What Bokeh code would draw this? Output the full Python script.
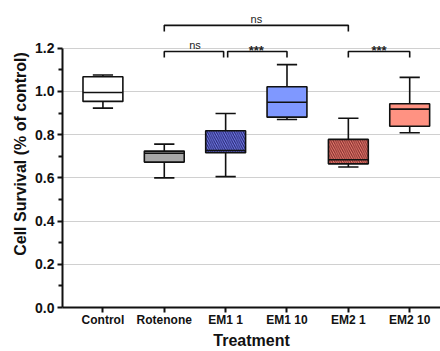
from bokeh.plotting import figure
from bokeh.models import Range1d, FixedTicker, ColumnDataSource, NumeralTickFormatter
from bokeh.core.properties import value
from bokeh.embed import file_html
from bokeh.resources import INLINE

# ---- data ----
groups = ["Control", "Rotenone", "EM1 1", "EM1 10", "EM2 1", "EM2 10"]
whisker_low = [0.923, 0.600, 0.606, 0.870, 0.650, 0.809]
q1 = [0.954, 0.673, 0.716, 0.881, 0.665, 0.839]
median = [0.995, 0.714, 0.727, 0.950, 0.684, 0.918]
q3 = [1.068, 0.724, 0.818, 1.022, 0.778, 0.943]
whisker_high = [1.076, 0.756, 0.898, 1.124, 0.876, 1.065]
fill_colors = ["#ffffff", "#a8a8a8", "#7c84f2", "#7f98ff", "#f08476", "#ff9282"]
hatches = [" ", " ", "\\", " ", "\\", " "]
hatch_colors = ["#000000", "#000000", "#22236e", "#000000", "#7e2a2a", "#000000"]

# comparisons: (from group, to group, label, bracket level)
comp_from = [1, 1, 2, 4]
comp_to = [4, 2, 3, 5]
comp_label = ["ns", "ns", "***", "***"]
comp_level = [1.306, 1.185, 1.185, 1.185]

y_ticks = [0.0, 0.2, 0.4, 0.6, 0.8, 1.0, 1.2]
y_minor = [0.1, 0.3, 0.5, 0.7, 0.9, 1.1]

FONT = "Liberation Sans"

p = figure(width=440, height=351, output_backend="svg", toolbar_location=None,
           x_range=Range1d(-0.659, 5.502), y_range=Range1d(0, 1.421),
           min_border_left=62, min_border_right=0, min_border_top=0, min_border_bottom=44)
p.outline_line_color = None
p.background_fill_color = "white"
p.border_fill_color = "white"

xs = list(range(len(groups)))
bw = 0.65
cw = 0.33
src = ColumnDataSource(dict(
    x=xs,
    left=[x - bw / 2 for x in xs], right=[x + bw / 2 for x in xs],
    cl=[x - cw / 2 for x in xs], cr=[x + cw / 2 for x in xs],
    ml=[x - bw / 2 for x in xs], mr=[x + bw / 2 for x in xs],
    wl=whisker_low, q1=q1, med=median, q3=q3, wh=whisker_high,
    fill=fill_colors, hatch=hatches, hcol=hatch_colors,
))

# whiskers
p.segment(x0="x", y0="q3", x1="x", y1="wh", source=src, line_color="#111111", line_width=1.6)
p.segment(x0="x", y0="q1", x1="x", y1="wl", source=src, line_color="#111111", line_width=1.6)
p.segment(x0="cl", y0="wh", x1="cr", y1="wh", source=src, line_color="#111111", line_width=1.6)
p.segment(x0="cl", y0="wl", x1="cr", y1="wl", source=src, line_color="#111111", line_width=1.6)
# boxes
p.quad(left="left", right="right", bottom="q1", top="q3", source=src,
       fill_color="fill", line_color="#111111", line_width=1.6,
       hatch_pattern="hatch", hatch_color="hcol", hatch_scale=4.5, hatch_weight=1.1)
# medians
p.segment(x0="ml", y0="med", x1="mr", y1="med", source=src, line_color="#111111", line_width=1.6)

# significance brackets
leg = 0.028
gap = 0.033
bx, by, tx, ty = [], [], [], []
for a, b, lab, lv in zip(comp_from, comp_to, comp_label, comp_level):
    x0 = a + (gap if (a, b) == (2, 3) else 0)
    x1 = b - (gap if (a, b) == (1, 2) else 0)
    bx.append([x0, x0, x1, x1])
    by.append([lv - leg, lv, lv, lv - leg])
    tx.append((a + b) / 2)
    ty.append(lv)
p.multi_line(xs=bx, ys=by, line_color="#111111", line_width=1.6)

ns_idx = [i for i, l in enumerate(comp_label) if l == "ns"]
st_idx = [i for i, l in enumerate(comp_label) if l != "ns"]
p.text(x=[tx[i] for i in ns_idx], y=[ty[i] + 0.03 for i in ns_idx], text=[comp_label[i] for i in ns_idx],
       text_font=value(FONT), text_font_size="11px", text_align="center",
       text_baseline="alphabetic", text_color="#222222")
p.text(x=[tx[i] for i in st_idx], y=[ty[i] + 0.005 for i in st_idx], text=[comp_label[i] for i in st_idx],
       text_font=value(FONT), text_font_size="13px", text_font_style="bold", text_align="center",
       text_baseline="alphabetic", text_color="#222222")

# axes
xa = p.xaxis[0]
xa.ticker = FixedTicker(ticks=xs)
xa.major_label_overrides = {i: g for i, g in enumerate(groups)}
xa.axis_label = "Treatment"
ya = p.yaxis[0]
ya.ticker = FixedTicker(ticks=y_ticks, minor_ticks=y_minor)
ya.formatter = NumeralTickFormatter(format="0.0")
ya.bounds = (0, 1.2)
ya.axis_label = "Cell Survival (% of control)"

for ax in (xa, ya):
    ax.axis_line_width = 2
    ax.axis_line_color = "#111111"
    ax.major_tick_line_width = 2
    ax.major_tick_line_color = "#111111"
    ax.major_tick_in = 0
    ax.major_tick_out = 5
    ax.major_label_text_font = FONT
    ax.major_label_text_font_style = "bold"
    ax.major_label_text_color = "#111111"
    ax.axis_label_text_font = FONT
    ax.axis_label_text_font_style = "bold"
    ax.axis_label_text_color = "#111111"
    ax.axis_label_text_font_size = "16px"
    ax.major_label_standoff = 3
    ax.axis_label_standoff = 3
xa.major_label_standoff = 0
xa.axis_label_standoff = 2
xa.major_label_text_font_size = "12px"
ya.major_label_text_font_size = "14px"
xa.minor_tick_line_color = None
ya.minor_tick_line_color = "#111111"
ya.minor_tick_line_width = 2
ya.minor_tick_in = 0
ya.minor_tick_out = 4

p.xgrid.grid_line_color = None
p.ygrid.ticker = FixedTicker(ticks=y_ticks)
p.ygrid.grid_line_color = "#d0d0d0"
p.ygrid.grid_line_width = 1

open("out.html", "w").write(file_html(p, INLINE))
